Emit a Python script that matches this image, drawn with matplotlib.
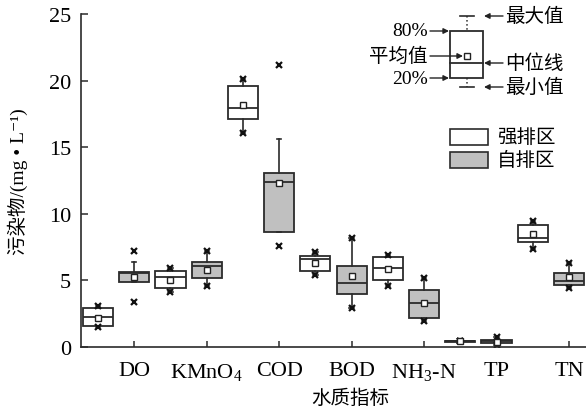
import matplotlib
matplotlib.use("Agg")
import matplotlib.pyplot as plt
from matplotlib.patches import Rectangle

plt.rcParams["font.family"] = ["Liberation Serif", "Noto Sans CJK SC", "DejaVu Serif"]
plt.rcParams["mathtext.fontset"] = "custom"
plt.rcParams["mathtext.rm"] = "Liberation Serif"
plt.rcParams["mathtext.it"] = "Liberation Serif:italic"

# water-quality indicators; each has a 强排区 box and a 自排区 box
categories = ["DO", "KMnO$_4$", "COD", "BOD", "NH$_3$-N", "TP", "TN"]
group_names = ["强排区", "自排区"]

# 强排区 (white boxes)
strong_q1 = [1.60, 4.40, 17.10, 5.68, 5.03, 0.41, 7.90]
strong_med = [2.23, 5.23, 17.97, 6.60, 5.90, 0.44, 8.16]
strong_q3 = [2.90, 5.68, 19.60, 6.85, 6.78, 0.47, 9.18]
strong_mean = [2.20, 5.03, 18.17, 6.30, 5.83, 0.44, 8.46]
strong_wlo = [1.47, 4.10, 16.10, 5.40, 4.55, 0.41, 7.36]
strong_whi = [3.05, 5.90, 20.10, 7.15, 6.88, 0.47, 9.48]
strong_min = [1.47, 4.10, 16.10, 5.40, 4.55, 0.43, 7.36]
strong_max = [3.05, 5.90, 20.10, 7.15, 6.88, 0.45, 9.48]

# 自排区 (grey boxes)
self_q1 = [4.85, 5.15, 8.60, 3.98, 2.18, 0.28, 4.65]
self_med = [5.55, 6.10, 12.40, 4.83, 3.30, 0.42, 4.98]
self_q3 = [5.60, 6.40, 13.04, 6.10, 4.30, 0.55, 5.55]
self_mean = [5.28, 5.80, 12.34, 5.30, 3.30, 0.40, 5.23]
self_wlo = [4.85, 4.60, 8.60, 2.93, 1.97, 0.15, 4.43]
self_whi = [6.40, 7.18, 15.60, 8.18, 5.15, 0.77, 6.28]
self_min = [3.35, 4.60, 7.60, 2.93, 1.97, 0.15, 4.43]
self_max = [7.18, 7.18, 21.20, 8.18, 5.15, 0.77, 6.28]

EDGE = "#2b2b2b"
GREY = "#c0c0c0"


def make_stats(q1, med, q3, mean, wlo, whi, vmin, vmax):
    return [dict(q1=a, med=b, q3=c, mean=d, whislo=e, whishi=f, fliers=[g, h])
            for a, b, c, d, e, f, g, h in zip(q1, med, q3, mean, wlo, whi, vmin, vmax)]


strong_stats = make_stats(strong_q1, strong_med, strong_q3, strong_mean,
                          strong_wlo, strong_whi, strong_min, strong_max)
self_stats = make_stats(self_q1, self_med, self_q3, self_mean,
                        self_wlo, self_whi, self_min, self_max)

fig = plt.figure(figsize=(5.86, 4.14), dpi=100)
ax = fig.add_axes([81 / 586, 66 / 414, 505 / 586, 333 / 414])

n = len(categories)
pos_strong = [2 * i + 1 for i in range(n)]
pos_self = [2 * i + 2 for i in range(n)]

common = dict(
    widths=0.83, patch_artist=True, showmeans=True, capwidths=0.12,
    boxprops=dict(edgecolor=EDGE, linewidth=1.3),
    medianprops=dict(color=EDGE, linewidth=1.3),
    whiskerprops=dict(color=EDGE, linewidth=1.2),
    capprops=dict(color=EDGE, linewidth=1.2),
    meanprops=dict(marker="s", markersize=5, markerfacecolor="white",
                   markeredgecolor="#222222", markeredgewidth=1.0),
    flierprops=dict(marker="x", markersize=4, markeredgecolor="#111111",
                    markeredgewidth=1.6, linestyle="none"),
)
b1 = ax.bxp(strong_stats, positions=pos_strong, **common)
b2 = ax.bxp(self_stats, positions=pos_self, **common)
for p in b1["boxes"]:
    p.set_facecolor("white")
for p in b2["boxes"]:
    p.set_facecolor(GREY)

ax.set_xlim(0.53, 14.47)
ax.set_ylim(0, 25)
ax.set_yticks([0, 5, 10, 15, 20, 25])
ax.set_xticks(pos_self)
ax.set_xticklabels(categories)
ax.tick_params(axis="both", direction="in", labelsize=16, color=EDGE, width=1.1)
ax.tick_params(axis="x", length=4, pad=10)
ax.tick_params(axis="y", length=5, pad=7)
for s in ["top", "right"]:
    ax.spines[s].set_visible(False)
for s in ["left", "bottom"]:
    ax.spines[s].set_color(EDGE)
    ax.spines[s].set_linewidth(1.2)

ax.set_ylabel("污染物/(mg • L⁻¹)", fontsize=14)
ax.yaxis.set_label_coords(-0.105, 0.5)
ax.set_xlabel("水质指标", fontsize=14)
ax.xaxis.set_label_coords(0.533, -0.125)


# ---- explanatory key (drawn in pixel positions of the figure) ----
def P(x, y):
    return ((x - 81) / 505, (348 - y) / 333)


tr = ax.transAxes
x0, y0 = P(450, 79)
x1, y1 = P(483, 32)
ax.add_patch(Rectangle((x0, y0), x1 - x0, y1 - y0, transform=tr,
                       facecolor="white", edgecolor=EDGE, linewidth=1.3))
ax.plot(*zip(P(450, 64), P(483, 64)), transform=tr, color=EDGE, lw=1.3)
ax.plot(*zip(P(467, 17), P(467, 32)), transform=tr, color=EDGE, lw=1.1, ls=":")
ax.plot(*zip(P(467, 79), P(467, 88)), transform=tr, color=EDGE, lw=1.1, ls=":")
ax.plot(*zip(P(460, 17), P(474, 17)), transform=tr, color=EDGE, lw=1.2)
ax.plot(*zip(P(460, 88), P(474, 88)), transform=tr, color=EDGE, lw=1.2)
ax.plot(*P(467, 57), transform=tr, marker="s", markersize=5,
        markerfacecolor="white", markeredgecolor="#222222", markeredgewidth=1.0)

arrow = dict(arrowstyle="-|>", color="#222222", lw=1.0, mutation_scale=8,
             shrinkA=0, shrinkB=0)
for (xs, ys), (xe, ye) in [((430, 32), (449, 32)), ((430, 57), (463, 57)),
                           ((430, 79), (449, 79)), ((503, 17), (484, 17)),
                           ((503, 64), (484, 64)), ((503, 88), (484, 88))]:
    ax.annotate("", xy=P(xe, ye), xytext=P(xs, ys), xycoords=tr,
                textcoords=tr, arrowprops=arrow)

for txt, (x, y) in [("80%", (428, 32)), ("平均值", (428, 57)), ("20%", (428, 79))]:
    ax.text(*P(x, y), txt, transform=tr, ha="right", va="center", fontsize=14)
for txt, (x, y) in [("最大值", (505, 17)), ("中位线", (505, 64)), ("最小值", (505, 88))]:
    ax.text(*P(x, y), txt, transform=tr, ha="left", va="center", fontsize=14)

# legend patches
for name, fc, ytop in [(group_names[0], "white", 130), (group_names[1], GREY, 153)]:
    lx, ly = P(450, ytop + 16)
    rx, ry = P(488, ytop)
    ax.add_patch(Rectangle((lx, ly), rx - lx, ry - ly, transform=tr,
                           facecolor=fc, edgecolor=EDGE, linewidth=1.2))
    ax.text(*P(497, ytop + 8), name, transform=tr, ha="left", va="center",
            fontsize=14)

fig.savefig("out.png", dpi=100)
